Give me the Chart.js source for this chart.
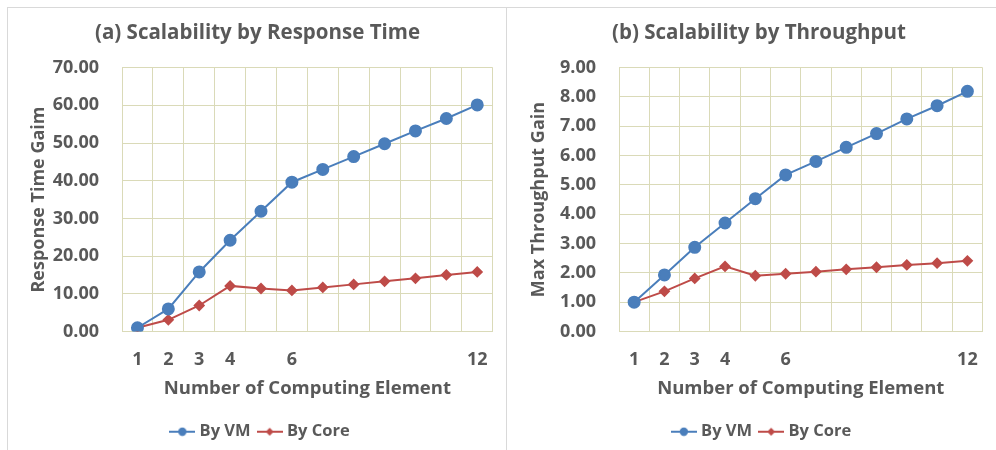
<!DOCTYPE html>
<html>
<head>
<meta charset="utf-8">
<script src="https://cdn.jsdelivr.net/npm/chart.js@4"></script>
<style>
    html, body { margin: 0; padding: 0; background: #fff; }
    body { width: 996px; height: 450px; position: relative; overflow: hidden; }
    .frame { position: absolute; left: 7px; top: 7px; right: 0; bottom: 0; border-left: 1px solid #d9d9d9; border-top: 1px solid #d9d9d9; }
    .sep { position: absolute; left: 506px; top: 7px; width: 1px; height: 443px; background: #d9d9d9; }
    .panel { position: absolute; top: 8px; height: 442px; }
</style>
</head>
<body>
<div class="frame"></div>
<div class="sep"></div>
<div class="panel" style="left: 8px; width: 498px;"><canvas id="respChart"></canvas></div>
<div class="panel" style="left: 508px; width: 488px;"><canvas id="thruChart"></canvas></div>
<script>
const xLabels = ['1', '2', '3', '4', '5', '6', '7', '8', '9', '10', '11', '12']
const xTicksShown = ['1', '2', '3', '4', '6', '12']

const responseByVM = [1.0, 6.0, 15.8, 24.2, 31.9, 39.6, 43.0, 46.4, 49.8, 53.2, 56.5, 60.1]
const responseByCore = [1.0, 3.1, 6.9, 12.1, 11.4, 10.9, 11.7, 12.5, 13.3, 14.1, 15.0, 15.8]

const throughputByVM = [1.0, 1.93, 2.87, 3.70, 4.53, 5.34, 5.80, 6.28, 6.75, 7.25, 7.70, 8.19]
const throughputByCore = [1.0, 1.37, 1.81, 2.22, 1.90, 1.97, 2.04, 2.12, 2.19, 2.27, 2.33, 2.41]

const responseTicks = { min: 0, max: 70, step: 10 }
const throughputTicks = { min: 0, max: 9, step: 1 }

const textColor = '#595959'
const gridColor = '#dadab8'
const fontFamily = '"Open Sans", "Liberation Sans", sans-serif'
const vmColor = '#4a7ebb'
const coreColor = '#be4b48'

// small legend icons: a line with the series marker in the middle
function legendIcon(color, style) {
    const c = document.createElement('canvas')
    c.width = 26
    c.height = 10
    const g = c.getContext('2d')
    g.strokeStyle = color
    g.lineWidth = 2
    g.beginPath()
    g.moveTo(0, 5)
    g.lineTo(26, 5)
    g.stroke()
    g.fillStyle = color
    g.beginPath()
    if (style === 'circle') {
        g.arc(13, 5, 4.2, 0, Math.PI * 2)
    } else {
        g.moveTo(13, 1)
        g.lineTo(17, 5)
        g.lineTo(13, 9)
        g.lineTo(9, 5)
        g.closePath()
    }
    g.fill()
    return c
}

const vmIcon = legendIcon(vmColor, 'circle')
const coreIcon = legendIcon(coreColor, 'diamond')

// nudge title and legend so they sit centred on the whole panel
const centerShift = {
    id: 'centerShift',
    afterLayout(chart, args, opts) {
        if (chart.titleBlock) {
            chart.titleBlock.left += opts.title
            chart.titleBlock.right += opts.title
        }
        if (chart.legend) {
            chart.legend.left += opts.legend
            chart.legend.right += opts.legend
        }
    }
}

function makeChart(id, title, yTitle, vmData, coreData, yTicks, shift) {
    const ctx = document.getElementById(id).getContext('2d')
    return new Chart(ctx, {
        type: 'line',
        data: {
            labels: xLabels,
            datasets: [
                {
                    label: 'By VM',
                    data: vmData,
                    borderColor: vmColor,
                    backgroundColor: vmColor,
                    borderWidth: 2,
                    pointStyle: 'circle',
                    pointRadius: 5.5,
                    pointHoverRadius: 5.5,
                    tension: 0
                },
                {
                    label: 'By Core',
                    data: coreData,
                    borderColor: coreColor,
                    backgroundColor: coreColor,
                    borderWidth: 2,
                    pointStyle: 'rectRot',
                    pointRadius: 4.5,
                    pointHoverRadius: 4.5,
                    tension: 0
                }
            ]
        },
        plugins: [centerShift],
        options: {
            responsive: true,
            maintainAspectRatio: false,
            animation: false,
            layout: {
                padding: { left: 0, right: id === 'respChart' ? 11 : 2, top: 0, bottom: 0 }
            },
            plugins: {
                centerShift: shift,
                title: {
                    display: true,
                    text: title,
                    color: textColor,
                    font: { family: fontFamily, size: 20.5, weight: 'bold' },
                    padding: { top: 13, bottom: 22 }
                },
                legend: {
                    position: 'bottom',
                    labels: {
                        color: textColor,
                        font: { family: fontFamily, size: 16.5, weight: 'bold' },
                        usePointStyle: true,
                        pointStyleWidth: 18,
                        boxHeight: 16,
                        padding: 10,
                        generateLabels: (chart) => chart.data.datasets.map((ds, i) => ({
                            text: ds.label,
                            fontColor: textColor,
                            pointStyle: i === 0 ? vmIcon : coreIcon,
                            datasetIndex: i,
                            lineWidth: 0
                        }))
                    }
                },
                tooltip: { enabled: false }
            },
            scales: {
                x: {
                    offset: true,
                    grid: { color: gridColor, offset: true, drawTicks: false },
                    border: { color: gridColor },
                    ticks: {
                        color: textColor,
                        font: { family: fontFamily, size: 18, weight: 'bold' },
                        padding: 18,
                        autoSkip: false,
                        maxRotation: 0,
                        callback: function (value) {
                            const label = this.getLabelForValue(value)
                            return xTicksShown.includes(label) ? label : ''
                        }
                    },
                    title: {
                        display: true,
                        text: 'Number of Computing Element',
                        color: textColor,
                        font: { family: fontFamily, size: 18.5, weight: 'bold' },
                        padding: { top: 0, bottom: 14 }
                    },
                    afterFit: (scale) => {
                        scale.height = 82
                    }
                },
                y: {
                    min: yTicks.min,
                    max: yTicks.max,
                    grid: { color: gridColor, drawTicks: false },
                    border: { color: gridColor },
                    ticks: {
                        stepSize: yTicks.step,
                        color: textColor,
                        font: { family: fontFamily, size: 18, weight: 'bold' },
                        padding: 23,
                        callback: (v) => Number(v).toFixed(2)
                    },
                    title: {
                        display: true,
                        text: yTitle,
                        color: textColor,
                        font: { family: fontFamily, size: 18, weight: 'bold' },
                        padding: { top: 20, bottom: 0 }
                    },
                    afterFit: (scale) => {
                        scale.width = id === 'respChart' ? 114 : 111
                    }
                }
            }
        }
    })
}

makeChart('respChart', '(a) Scalability by Response Time', 'Response Time Gaim', responseByVM, responseByCore, responseTicks, { title: 6, legend: 10 })
makeChart('thruChart', '(b) Scalability by Throughput', 'Max Throughput Gain', throughputByVM, throughputByCore, throughputTicks, { title: 8, legend: 12 })
</script>
</body>
</html>
